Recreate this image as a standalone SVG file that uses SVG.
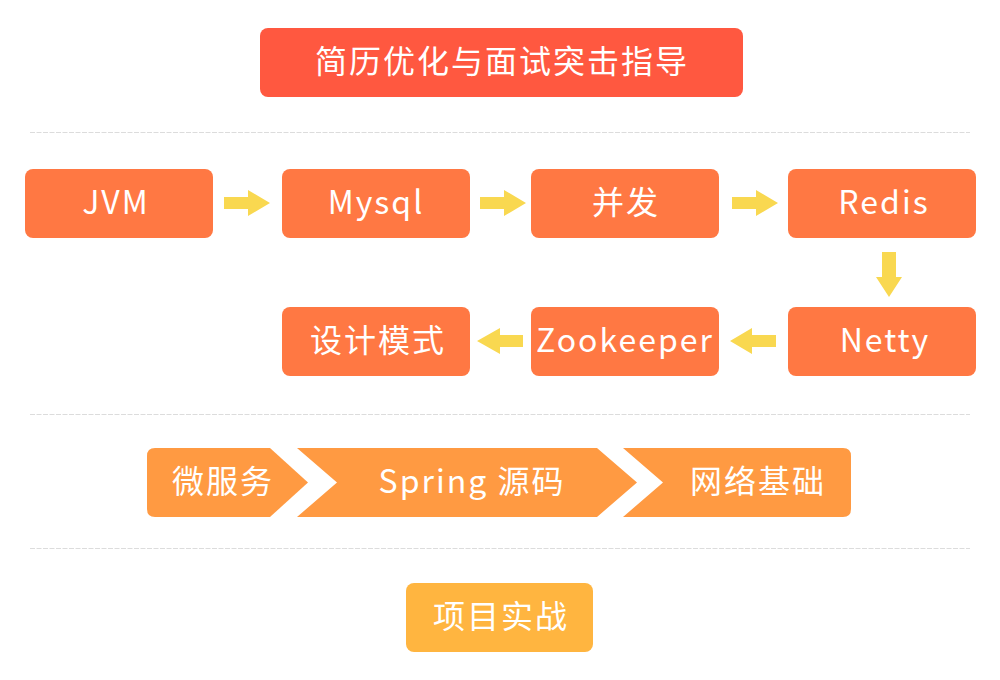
<svg xmlns="http://www.w3.org/2000/svg" width="1000" height="680" viewBox="0 0 1000 680">
<style>
.t{font-family:"Noto Sans CJK SC","Noto Sans",sans-serif;font-size:32px;fill:#fff;text-anchor:middle;letter-spacing:2px}
.sep{stroke:#dcdcdc;stroke-width:1;stroke-dasharray:5 1.5;fill:none}
.box{fill:#ff7843}
.arr{fill:#f9d850}
.chev{fill:#ff9a42}
</style>
<rect width="1000" height="680" fill="#fff"/>
<g id="separators">
<line class="sep" x1="30" y1="132.5" x2="970" y2="132.5"/>
<line class="sep" x1="30" y1="414.5" x2="970" y2="414.5"/>
<line class="sep" x1="30" y1="548.5" x2="970" y2="548.5"/>
</g>
<g id="title">
<rect x="260" y="28" width="483" height="69" rx="8" fill="#ff5840"/>
<text class="t" x="502" y="73">简历优化与面试突击指导</text>
</g>
<g id="jvm"><rect class="box" x="25" y="169" width="188" height="69" rx="8"/><text class="t" x="116" y="214">JVM</text></g>
<g id="mysql"><rect class="box" x="282" y="169" width="188" height="69" rx="8"/><text class="t" x="376" y="214">Mysql</text></g>
<g id="concurrency"><rect class="box" x="531" y="169" width="188" height="69" rx="8"/><text class="t" x="626" y="214">并发</text></g>
<g id="redis"><rect class="box" x="788" y="169" width="188" height="69" rx="8"/><text class="t" x="884" y="214">Redis</text></g>
<g id="netty"><rect class="box" x="788" y="307" width="188" height="69" rx="8"/><text class="t" x="885" y="352">Netty</text></g>
<g id="zookeeper"><rect class="box" x="531" y="307" width="188" height="69" rx="8"/><text class="t" x="625" y="352">Zookeeper</text></g>
<g id="design-patterns"><rect class="box" x="282" y="307" width="188" height="69" rx="8"/><text class="t" x="378" y="352">设计模式</text></g>
<g id="connectors">
<polygon class="arr" points="224,197 248,197 248,190 270,203 248,216 248,209 224,209"/>
<polygon class="arr" points="480,197 504,197 504,190 526,203 504,216 504,209 480,209"/>
<polygon class="arr" points="732,197 756,197 756,190 778,203 756,216 756,209 732,209"/>
<polygon class="arr" points="882,252 896,252 896,277 902,277 889,297 876,277 882,277"/>
<polygon class="arr" points="776,335 752,335 752,328 730,341 752,354 752,347 776,347"/>
<polygon class="arr" points="523,335 500,335 500,328 477,341 500,354 500,347 523,347"/>
</g>
<g id="microservices">
<path class="chev" d="M155,448 H270 L308,482.5 L270,517 H155 Q147,517 147,509 V456 Q147,448 155,448 Z"/>
<text class="t" x="223" y="493">微服务</text>
</g>
<g id="spring-source">
<path class="chev" d="M297,448 H597 L637,482.5 L597,517 H297 L337,482.5 Z"/>
<text class="t" x="472" y="493">Spring 源码</text>
</g>
<g id="network-basics">
<path class="chev" d="M623,448 H843 Q851,448 851,456 V509 Q851,517 843,517 H623 L663,482.5 Z"/>
<text class="t" x="758" y="493">网络基础</text>
</g>
<g id="projects">
<rect x="406" y="583" width="187" height="69" rx="8" fill="#ffb540"/>
<text class="t" x="501" y="628">项目实战</text>
</g>
</svg>
